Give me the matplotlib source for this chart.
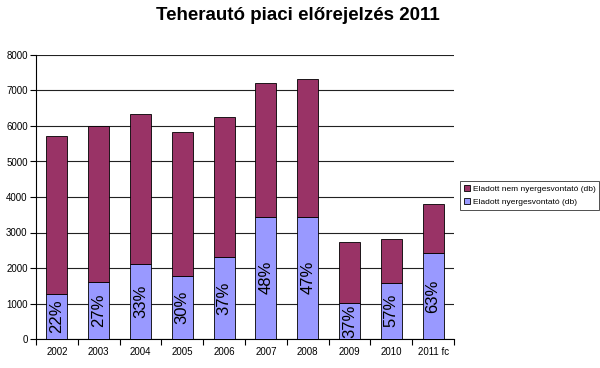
import matplotlib
matplotlib.use("Agg")
import matplotlib.pyplot as plt
import numpy as np

plt.rcParams['font.family'] = ['Liberation Sans', 'DejaVu Sans']

categories = ['2002', '2003', '2004', '2005', '2006', '2007', '2008', '2009', '2010', '2011 fc']
nyerges = [1260, 1600, 2100, 1770, 2300, 3450, 3450, 1005, 1590, 2410]
total = [5720, 5990, 6330, 5830, 6260, 7200, 7320, 2730, 2820, 3800]
pct_labels = ['22%', '27%', '33%', '30%', '37%', '48%', '47%', '37%', '57%', '63%']
nem_nyerges = [t - n for t, n in zip(total, nyerges)]

fig = plt.figure(figsize=(6.0, 3.68), dpi=100)
ax = fig.add_axes([36/600, 1-339/368, 418/600, 284/368])

x = np.arange(len(categories))
w = 0.5
b1 = ax.bar(x, nyerges, w, color='#9999FF', edgecolor='black', linewidth=0.6, zorder=3,
            label='Eladott nyergesvontató (db)')
b2 = ax.bar(x, nem_nyerges, w, bottom=nyerges, color='#993366', edgecolor='black', linewidth=0.6,
            zorder=3, label='Eladott nem nyergesvontató (db)')

for xi, n, lab in zip(x, nyerges, pct_labels):
    ax.text(xi, n/2, lab, rotation=90, ha='center', va='center', fontsize=12, zorder=4, color='black')

ax.set_xlim(-0.5, len(categories)-0.5)
ax.set_ylim(0, 8000)
ax.set_yticks(np.arange(0, 8001, 1000))
ax.yaxis.grid(True, color='#222222', linewidth=0.8, zorder=0)
ax.set_axisbelow(True)
for s in ['top', 'right']:
    ax.spines[s].set_visible(False)
ax.spines['left'].set_linewidth(0.8)
ax.spines['bottom'].set_linewidth(0.8)
ax.set_xticks(x)
ax.set_xticklabels(categories, fontsize=7)
ax.tick_params(axis='x', length=0, pad=6)
ax.set_xticks(np.arange(-0.5, len(categories), 1), minor=True)
ax.tick_params(axis='x', which='minor', length=4, width=0.8, direction='out')
ax.tick_params(axis='y', labelsize=7, length=4, width=0.8, direction='out', pad=2)

fig.text(298/600, 1-16/368, 'Teherautó piaci előrejelzés 2011', ha='center', va='center',
         fontsize=13.5, fontweight='bold')

handles = [b2, b1]
leg = fig.legend(handles, [h.get_label() for h in handles], loc='upper left',
                 bbox_to_anchor=(460/600, 1-181/368), fontsize=6, frameon=True,
                 fancybox=False, edgecolor='black', handlelength=0.7, handleheight=0.7,
                 handletextpad=0.3, borderpad=0.5, labelspacing=0.6, borderaxespad=0)
leg.get_frame().set_linewidth(0.6)

fig.savefig('out.png', dpi=100)
